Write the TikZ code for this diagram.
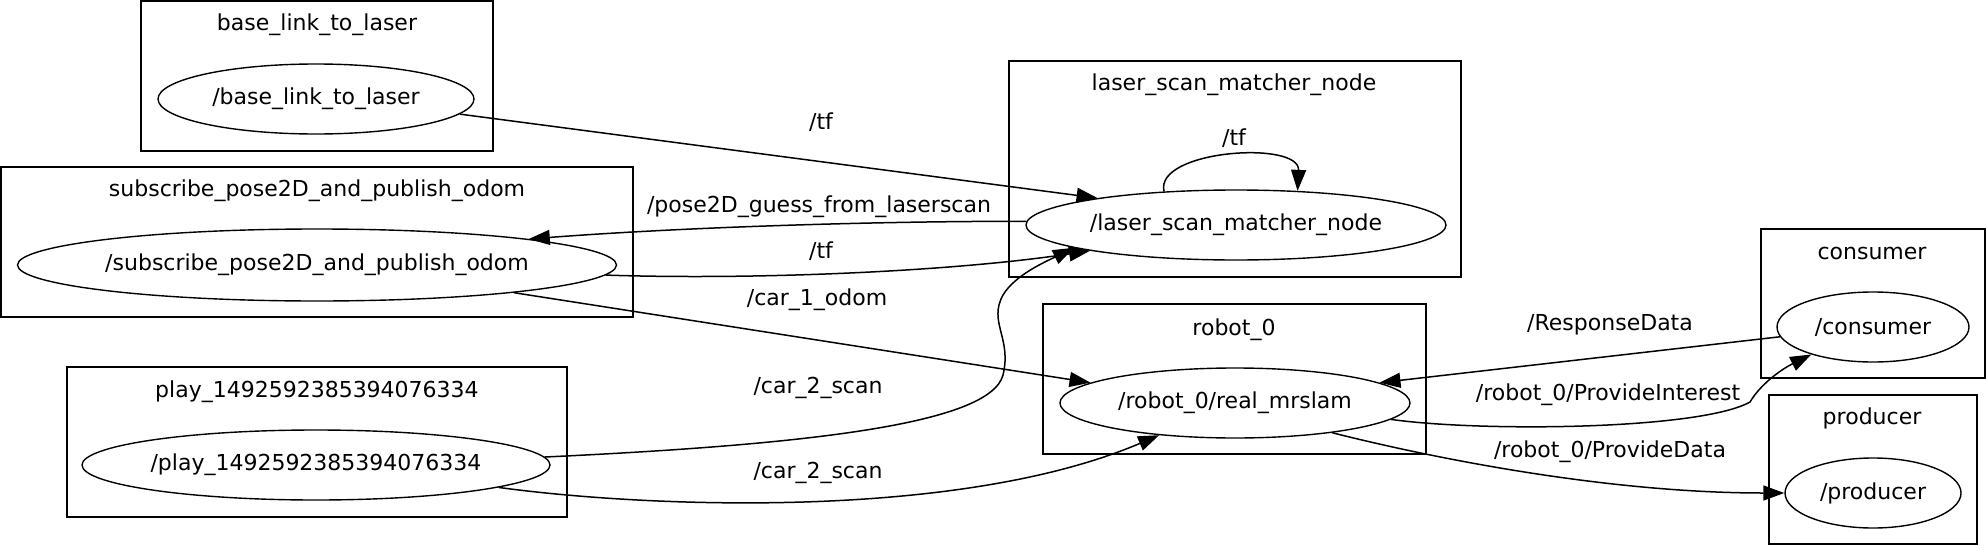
\documentclass[tikz,border=0pt]{standalone}
\usepackage{fontspec}
\setmainfont{DejaVu Sans}
\usetikzlibrary{shapes.geometric,arrows.meta}
\begin{document}
\begin{tikzpicture}[x=1pt,y=-1pt,
  every node/.style={font=\fontsize{22}{26}\selectfont},
  cluster/.style={draw,line width=2.2pt,rectangle,inner sep=0pt},
  topic/.style={draw,ellipse,line width=1.4pt,inner sep=0pt},
  edge/.style={line width=1.5pt,-{Triangle[length=21pt,width=15pt]}},
  lbl/.style={inner sep=0pt}
]
\useasboundingbox (0,0) rectangle (1986,546);
% cluster boxes
\node[cluster, minimum width=352pt, minimum height=150pt] (cbl) at (317,76) {};
\node[cluster, minimum width=632pt, minimum height=150pt] (csub) at (317,242) {};
\node[cluster, minimum width=500pt, minimum height=150pt] (cplay) at (317,442) {};
\node[cluster, minimum width=452pt, minimum height=216pt] (clsm) at (1235,169) {};
\node[cluster, minimum width=383pt, minimum height=150pt] (crob) at (1234.5,379) {};
\node[cluster, minimum width=224pt, minimum height=149pt] (ccons) at (1873,303.5) {};
\node[cluster, minimum width=208pt, minimum height=149pt] (cprod) at (1873,469.5) {};
% titles
\node[lbl] (tbl) at (317,25) {base\_link\_to\_laser};
\node[lbl] (tsub) at (317,191) {subscribe\_pose2D\_and\_publish\_odom};
\node[lbl] (tplay) at (317,392) {play\_1492592385394076334};
\node[lbl] (tlsm) at (1234,85) {laser\_scan\_matcher\_node};
\node[lbl] (trob) at (1234,330) {robot\_0};
\node[lbl] (tcons) at (1872,253) {consumer};
\node[lbl] (tprod) at (1872,418) {producer};
% topic nodes
\node[topic, minimum width=316pt, minimum height=70pt] (bl) at (316,99) {/base\_link\_to\_laser};
\node[topic, minimum width=598pt, minimum height=72pt] (sub) at (317,265) {/subscribe\_pose2D\_and\_publish\_odom};
\node[topic, minimum width=464pt, minimum height=70pt] (play) at (316,465) {/play\_1492592385394076334};
\node[topic, minimum width=420pt, minimum height=70pt] (lsm) at (1236,225) {/laser\_scan\_matcher\_node};
\node[topic, minimum width=350pt, minimum height=70pt] (rob) at (1235,403) {/robot\_0/real\_mrslam};
\node[topic, minimum width=192pt, minimum height=70pt] (cons) at (1873,327) {/consumer};
\node[topic, minimum width=176pt, minimum height=70pt] (prod) at (1873,493) {/producer};
% waypoints
\coordinate (w1) at (1003,375);
\coordinate (w2) at (1003,295);
\coordinate (w3) at (1750,402);
% edges
\draw[edge] (bl.-6) -- (lsm.169);
\draw[edge] (lsm.155) .. controls (1154,150) and (1300,140) .. (lsm.29);
\draw[edge] (lsm.179) .. controls (900,221) and (700,226) .. (sub.7);
\draw[edge] (sub.-2) .. controls (750,280) and (950,272) .. (lsm.190.5);
\draw[edge] (sub.-8.5) -- (rob.172);
\draw[edge] (play.2) .. controls (800,445) and (990,425) .. (w1)
  .. controls (1012,338) and (988,322) .. (w2)
  .. controls (1015,275) and (1045,262) .. (lsm.188);
\draw[edge] (play.-7.5) .. controls (650,508) and (960,520) .. (rob.203);
\draw[edge] (cons.186) -- (rob.8);
\draw[edge] (rob.-6) .. controls (1480,432) and (1700,430) .. (w3)
  .. controls (1760,385) and (1780,370) .. (cons.204);
\draw[edge] (rob.-17) .. controls (1420,455) and (1600,493) .. (prod.180);
% edge labels
\node[lbl] (l1) at (821,122) {/tf};
\node[lbl] (l2) at (1234,138) {/tf};
\node[lbl] (l3) at (819,207) {/pose2D\_guess\_from\_laserscan};
\node[lbl] (l4) at (821,251) {/tf};
\node[lbl] (l5) at (817,300) {/car\_1\_odom};
\node[lbl] (l6) at (818,388) {/car\_2\_scan};
\node[lbl] (l7) at (818,473) {/car\_2\_scan};
\node[lbl] (l8) at (1610,325) {/ResponseData};
\node[lbl] (l9) at (1608,395) {/robot\_0/ProvideInterest};
\node[lbl] (l10) at (1610,452) {/robot\_0/ProvideData};
\end{tikzpicture}
\end{document}
